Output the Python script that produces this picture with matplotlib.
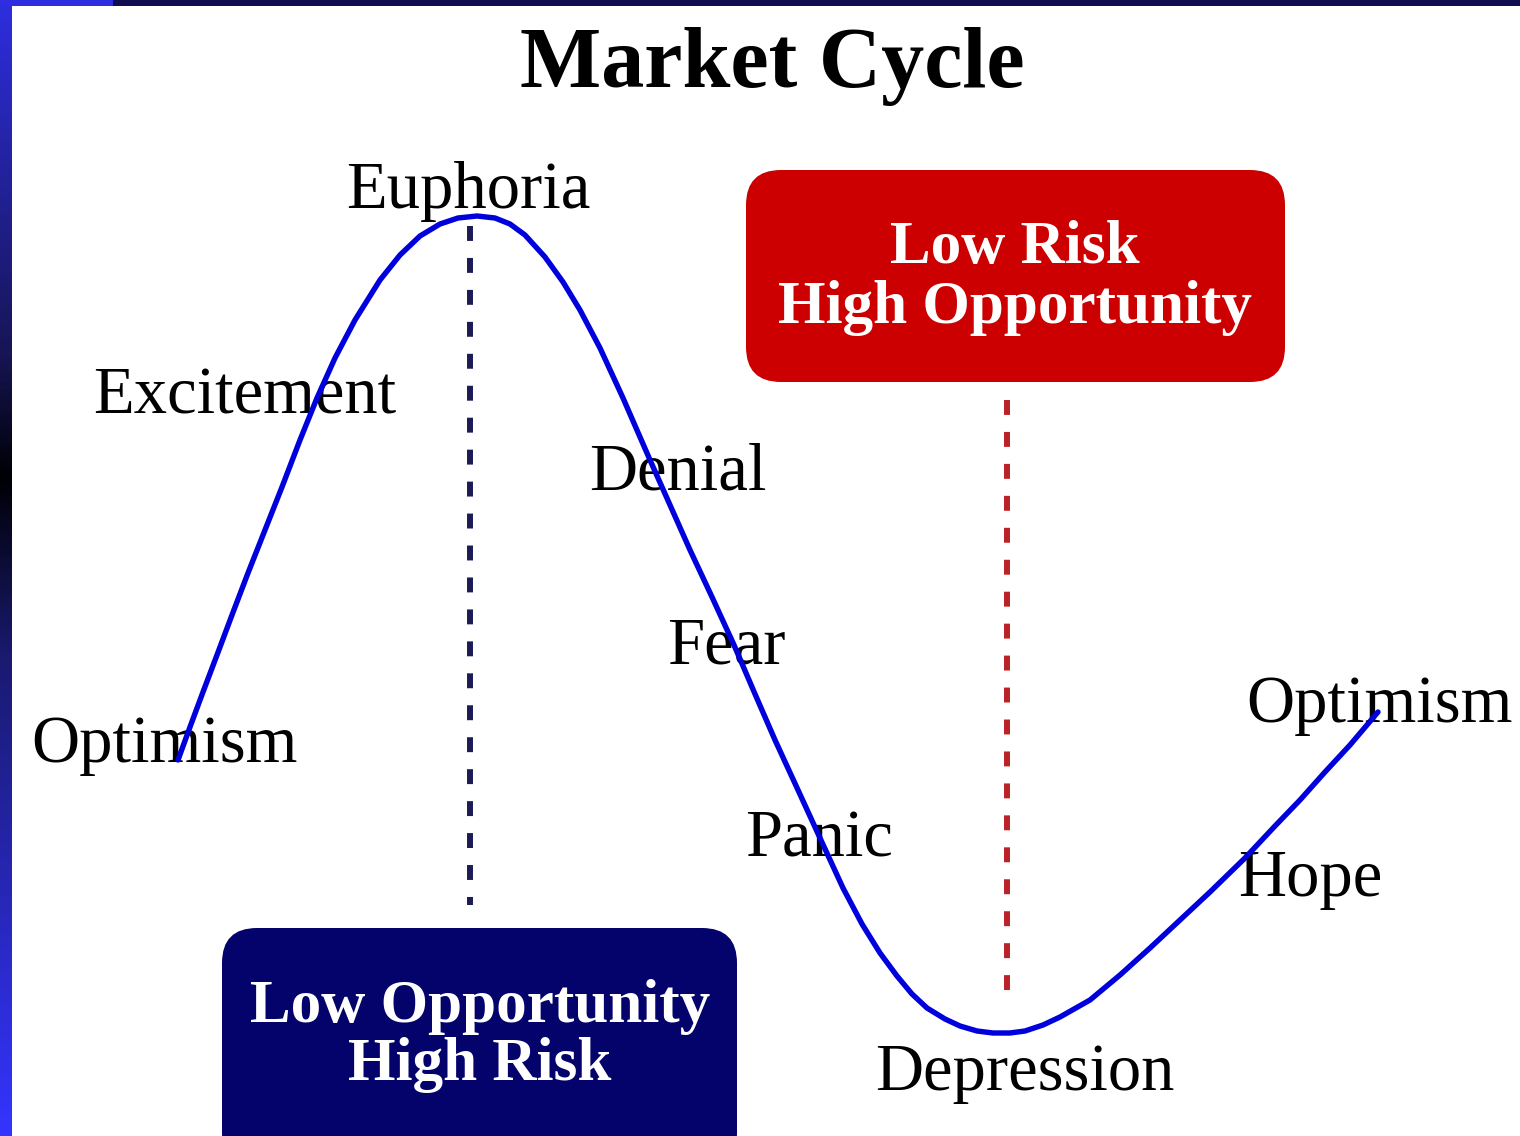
import numpy as np
import matplotlib
matplotlib.use('Agg')
import matplotlib.pyplot as plt
from matplotlib.patches import FancyBboxPatch, Rectangle
from matplotlib.colors import LinearSegmentedColormap

# curve (pixel coordinates, y down)
curva_x = [178, 190, 203, 217, 232, 248, 265, 282, 300, 317, 335, 355,
           380, 400, 420, 440, 458, 477, 495, 510, 525, 545, 563, 580,
           600, 623, 650, 670, 690, 712, 734, 755, 775, 798, 820, 843,
           862, 880, 897, 912, 927, 945, 960, 977, 993, 1010, 1025, 1043,
           1060, 1090, 1120, 1150, 1180, 1210, 1245, 1275, 1300, 1325,
           1350, 1378]
curva_y = [760, 727, 692, 655, 615, 573, 530, 487, 440, 398, 358, 320,
           280, 255, 236, 224, 218, 216, 218, 224, 235, 257, 282, 310,
           348, 398, 460, 505, 550, 597, 645, 694, 740, 790, 838, 888,
           924, 953, 976, 994, 1008, 1019, 1026, 1031, 1033, 1033, 1031, 1025,
           1017, 1000, 975, 948, 920, 892, 858, 826, 800, 772,
           745, 712]

# phase labels: text, x, y
fases = ['Euphoria', 'Excitement', 'Denial', 'Fear', 'Panic',
         'Optimism', 'Optimism', 'Hope', 'Depression']
fases_x = [468, 245, 678, 726, 819, 164, 1379, 1310, 1025]
fases_y = [186, 392, 468, 642, 835, 740, 700, 875, 1068]

# vertical marker lines: x, y start, y end
pico_x, pico_y0, pico_y1 = 470, 226, 905
vale_x, vale_y0, vale_y1 = 1007, 400, 1007

W, H = 1520, 1136
fig = plt.figure(figsize=(W / 100, H / 100), dpi=100)
ax = fig.add_axes([0, 0, 1, 1])

serif = 'Liberation Serif'
desl = 5  # text sits a little lower than its box centre

# bordas (faixa lateral com gradiente e faixa superior)
cmap_borda = LinearSegmentedColormap.from_list(
    'borda', [(0, '#2e2ee0'), (0.31, '#171555'), (0.42, '#000005'),
              (0.58, '#1a1a70'), (1, '#3434ff')])
grad = np.linspace(0, 1, 256).reshape(-1, 1)
ax.imshow(grad, cmap=cmap_borda, extent=(0, 12, H, 0), aspect='auto', zorder=5)
ax.add_patch(Rectangle((0, 0), 113, 6, color='#2e2ee0', zorder=5, lw=0))
ax.add_patch(Rectangle((113, 0), W - 113, 6, color='#0f0d50', zorder=5, lw=0))
ax.set_xlim(0, W)
ax.set_ylim(H, 0)
ax.axis('off')

# titulo
ax.text(772, 62 + desl, 'Market Cycle', fontsize=62, fontweight='bold',
        family=serif, ha='center', va='center', color='black')

# caixas
ax.add_patch(FancyBboxPatch((746, 170), 539, 212,
                            boxstyle='round,pad=0,rounding_size=35',
                            fc='#cc0000', ec='none', zorder=2))
ax.text(1015, 243 + desl, 'Low Risk', fontsize=44, fontweight='bold',
        family=serif, color='white', ha='center', va='center', zorder=3)
ax.text(1015, 303 + desl, 'High Opportunity', fontsize=44, fontweight='bold',
        family=serif, color='white', ha='center', va='center', zorder=3)

ax.add_patch(FancyBboxPatch((222, 928), 515, 240,
                            boxstyle='round,pad=0,rounding_size=35',
                            fc='#03036b', ec='none', zorder=2))
ax.text(480, 1002 + desl, 'Low Opportunity', fontsize=44, fontweight='bold',
        family=serif, color='white', ha='center', va='center', zorder=3)
ax.text(480, 1060 + desl, 'High Risk', fontsize=44, fontweight='bold',
        family=serif, color='white', ha='center', va='center', zorder=3)

# linhas tracejadas
ax.plot([pico_x, pico_x], [pico_y0, pico_y1], color='#1c1c55', lw=4.3,
        dashes=(2.5, 2.85), solid_capstyle='butt', zorder=1)
ax.plot([vale_x, vale_x], [vale_y0, vale_y1], color='#bb2228', lw=4.3,
        dashes=(2.5, 2.85), solid_capstyle='butt', zorder=1)

# rotulos das fases
for txt, x, y in zip(fases, fases_x, fases_y):
    ax.text(x, y + desl, txt, fontsize=48, family=serif, color='black',
            ha='center', va='center', zorder=3)

# curva do ciclo
ax.plot(curva_x, curva_y, color='#0000dd', lw=3.9, solid_joinstyle='round',
        solid_capstyle='round', zorder=4)

fig.savefig('out.png', dpi=100)
plt.close()
